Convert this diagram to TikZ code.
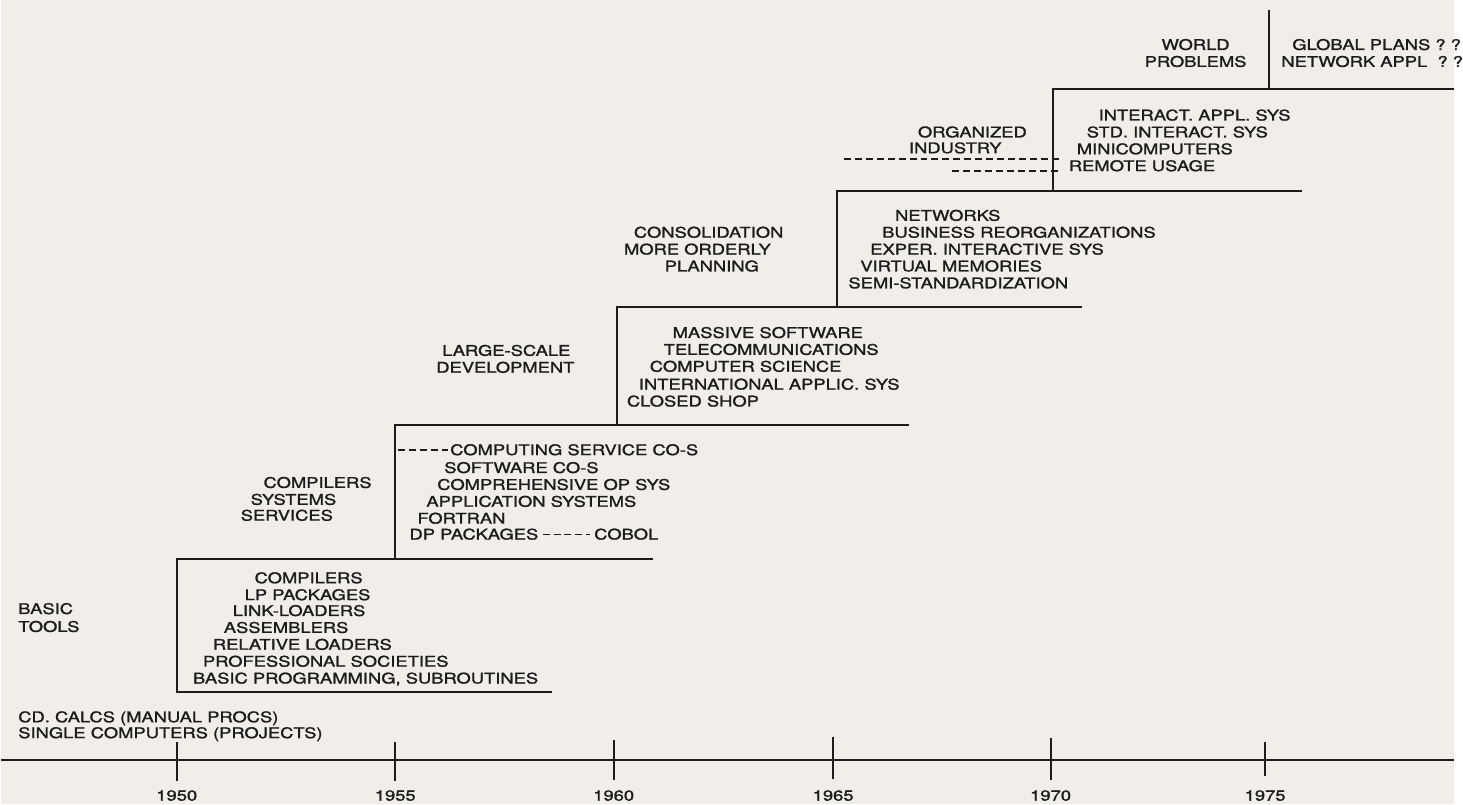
\documentclass[tikz,border=0pt]{standalone}
\usepackage{fontspec}
\usepackage{tikz}
\newfontfamily\chartfont{TeX Gyre Heros}[FakeStretch=1.25, FakeBold=1.4]
\definecolor{Paper}{RGB}{241, 238, 233}
\definecolor{Ink}  {RGB}{ 28,  28,  28}

\begin{document}
\begin{tikzpicture}[x=0.5pt, y=-0.5pt,
    tag/.style={font=\chartfont\fontsize{7.4}{8}\selectfont, text=Ink, inner sep=0pt,
                text height=5.3pt, text depth=0pt, anchor=west},
    yr/.style={tag, anchor=center},
    stair/.style={Ink, line width=1pt},
    dashline/.style={Ink, line width=0.75pt, dash pattern=on 3.5pt off 2pt}]
        \path[fill=Paper] (0,0) rectangle (1463,810);

        % time axis
        \draw[stair] (0,765) -- (1463,765);
        \draw[stair] (177,747) -- (177,786) (397,747) -- (397,786)
                     (617,745) -- (617,785) (838,742) -- (838,784)
                     (1057,743) -- (1057,785) (1273,747) -- (1273,781);
        \node[yr] (y50) at (177,801) {1950};
        \node[yr] (y55) at (397,801) {1955};
        \node[yr] (y60) at (617,801) {1960};
        \node[yr] (y65) at (838,801) {1965};
        \node[yr] (y70) at (1057,801) {1970};
        \node[yr] (y75) at (1273,801) {1975};

        % the steps
        \draw[stair] (555,697) -- (177,697) -- (177,563) -- (657,563);
        \draw[stair] (397,563) -- (397,428) -- (914,428);
        \draw[stair] (620,428) -- (620,309) -- (1089,309);
        \draw[stair] (842,309) -- (842,192) -- (1310,192);
        \draw[stair] (1059,192) -- (1059,90) -- (1463,90);
        \draw[stair] (1277,90) -- (1277,10);

        % before 1950
        \node[tag] (cdcalc) at (17,722) {CD. CALCS (MANUAL PROCS)};
        \node[tag] (single) at (17,738) {SINGLE COMPUTERS (PROJECTS)};

        % 1950
        \node[tag] (basic) at (17,613) {BASIC};
        \node[tag] (tools) at (17,631) {TOOLS};
        \node[tag] (comp1) at (255,582) {COMPILERS};
        \node[tag] (lppk)  at (245,599) {LP PACKAGES};
        \node[tag] (link)  at (233,615) {LINK-LOADERS};
        \node[tag] (assm)  at (224,632) {ASSEMBLERS};
        \node[tag] (rell)  at (213,649) {RELATIVE LOADERS};
        \node[tag] (prof)  at (203,666) {PROFESSIONAL SOCIETIES};
        \node[tag] (bprog) at (193,683) {BASIC PROGRAMMING, SUBROUTINES};

        % 1955
        \node[tag] (comp2) at (264,486) {COMPILERS};
        \node[tag] (syst)  at (251,503) {SYSTEMS};
        \node[tag] (serv)  at (241,519) {SERVICES};
        \node[tag] (csvc)  at (452,453) {COMPUTING SERVICE CO-S};
        \node[tag] (swco)  at (446,471) {SOFTWARE CO-S};
        \node[tag] (cops)  at (439,488) {COMPREHENSIVE OP SYS};
        \node[tag] (apps)  at (428,505) {APPLICATION SYSTEMS};
        \node[tag] (fort)  at (419,522) {FORTRAN};
        \node[tag] (dp)    at (411,538) {DP PACKAGES};
        \node[tag] (cobol) at (597,538) {COBOL};
        \draw[dashline] (400,453) -- ([xshift=-1pt]csvc.west);
        \draw[dashline] ([xshift=2pt]dp.east) -- ([xshift=-2pt]cobol.west);

        % 1960
        \node[tag] (large) at (444,353) {LARGE-SCALE};
        \node[tag] (devel) at (438,370) {DEVELOPMENT};
        \node[tag] (mass)  at (676,335) {MASSIVE SOFTWARE};
        \node[tag] (tele)  at (667,352) {TELECOMMUNICATIONS};
        \node[tag] (csci)  at (653,369) {COMPUTER SCIENCE};
        \node[tag] (intl)  at (642,387) {INTERNATIONAL APPLIC. SYS};
        \node[tag] (shop)  at (630,404) {CLOSED SHOP};

        % 1965
        \node[tag] (cons)  at (637,234) {CONSOLIDATION};
        \node[tag] (order) at (627,251) {MORE ORDERLY};
        \node[tag] (plan)  at (668,268) {PLANNING};
        \node[tag] (netw)  at (900,217) {NETWORKS};
        \node[tag] (busi)  at (887,234) {BUSINESS REORGANIZATIONS};
        \node[tag] (exper) at (875,251) {EXPER. INTERACTIVE SYS};
        \node[tag] (virt)  at (865,268) {VIRTUAL MEMORIES};
        \node[tag] (semi)  at (853,285) {SEMI-STANDARDIZATION};

        % 1970
        \node[tag] (orgn)  at (923,133) {ORGANIZED};
        \node[tag] (indu)  at (914,149) {INDUSTRY};
        \node[tag] (iapp)  at (1105,116) {INTERACT. APPL. SYS};
        \node[tag] (std)   at (1093,133) {STD. INTERACT. SYS};
        \node[tag] (mini)  at (1083,150) {MINICOMPUTERS};
        \node[tag] (remote) at (1075,167) {REMOTE USAGE};
        \draw[dashline] (849,160) -- (1067,160);
        \draw[dashline] (958,172) -- (1067,172);

        % 1975
        \node[yr] (world) at (1203,45) {WORLD};
        \node[yr] (probl) at (1203,62) {PROBLEMS};
        \node[tag] (glob)  at (1300,45) {GLOBAL PLANS ? ?};
        \node[tag] (nappl) at (1289,62) {NETWORK APPL\ \ ? ?};
      \end{tikzpicture}
\end{document}
